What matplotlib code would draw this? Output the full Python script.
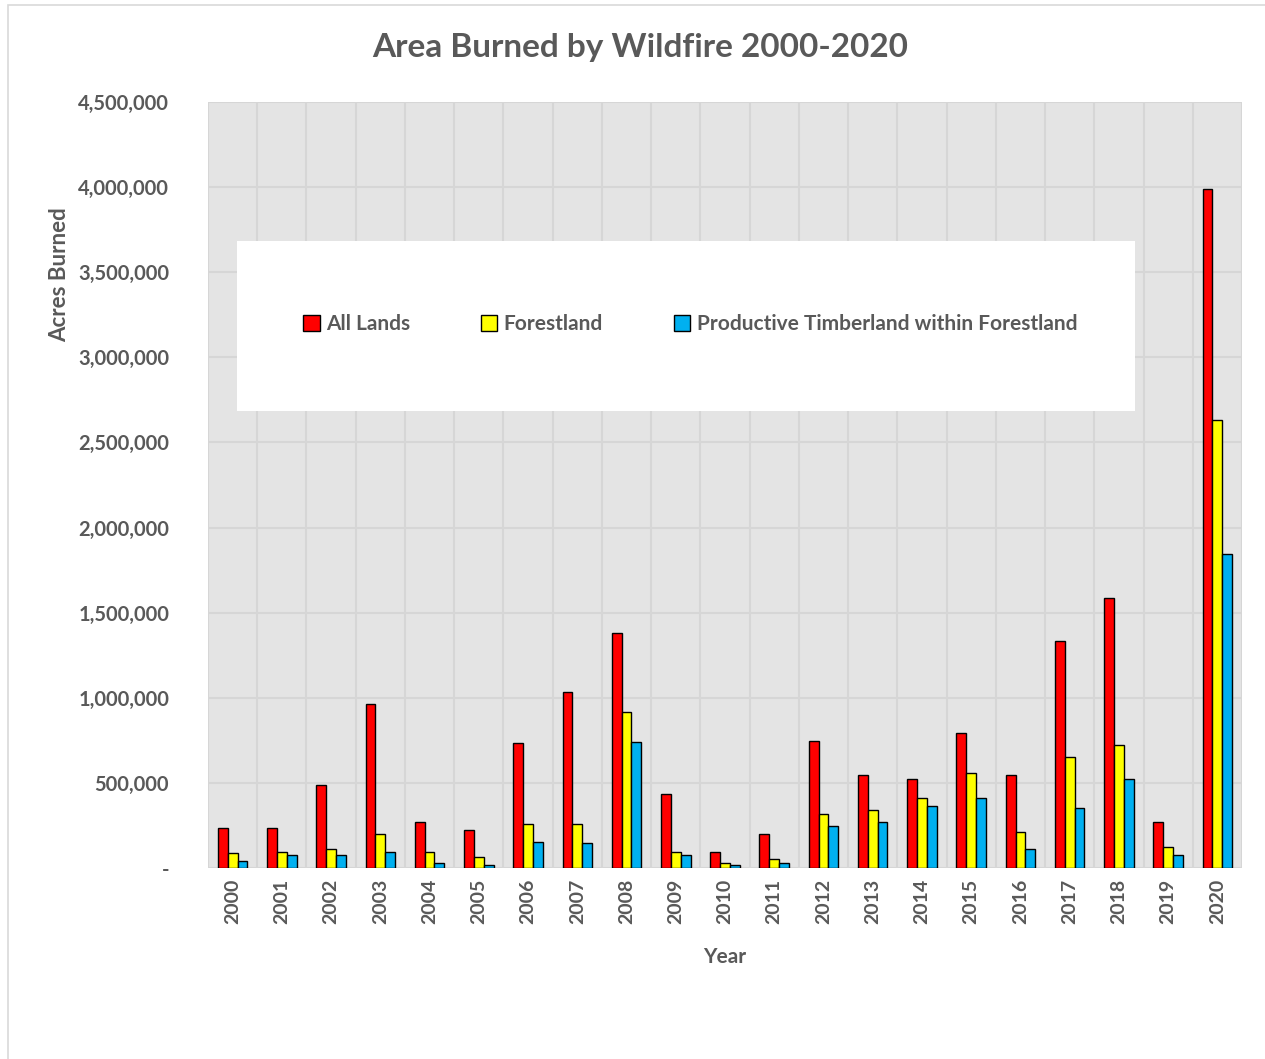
import numpy as np
import matplotlib.pyplot as plt
from matplotlib.patches import Rectangle
from matplotlib.ticker import FuncFormatter

years = [str(y) for y in range(2000, 2021)]
all_lands = [235000, 235000, 488000, 964000, 270000, 223000, 734000, 1034000, 1381000, 435000,
             94000, 200000, 746000, 546000, 523000, 793000, 546000, 1334000, 1586000, 270000, 3990000]
forestland = [88000, 94000, 112000, 200000, 94000, 65000, 258000, 258000, 917000, 94000,
              30000, 53000, 317000, 341000, 411000, 558000, 212000, 652000, 723000, 123000, 2632000]
timberland = [41000, 76000, 76000, 94000, 30000, 18000, 153000, 147000, 740000, 76000,
              18000, 27000, 247000, 270000, 364000, 411000, 112000, 352000, 523000, 76000, 1845000]

plt.rcParams['font.family'] = ['Lato', 'DejaVu Sans']
txt = '#595959'

fig = plt.figure(figsize=(12.65, 10.59), dpi=100)
# outer chart border
fig.patches.append(Rectangle((8 / 1265, -0.1), 1.2, 1 - 5 / 1059 + 0.1, transform=fig.transFigure,
                             facecolor='white', edgecolor='#d9d9d9', linewidth=1.2, zorder=-1))
ax = fig.add_axes([208 / 1265, 191 / 1059, 1034 / 1265, 766 / 1059])
ax.set_facecolor('#e4e4e4')

x = np.arange(len(years))
w = 0.2
ax.bar(x - w, all_lands, w, color='#ff0000', edgecolor='black', linewidth=1, label='All Lands', zorder=3)
ax.bar(x, forestland, w, color='#ffff00', edgecolor='black', linewidth=1, label='Forestland', zorder=3)
ax.bar(x + w, timberland, w, color='#00b0f0', edgecolor='black', linewidth=1,
       label='Productive Timberland within Forestland', zorder=3)

ax.set_xlim(-0.5, len(years) - 0.5)
ax.set_ylim(0, 4500000)
ax.set_yticks(np.arange(0, 4500001, 500000))
ax.yaxis.set_major_formatter(FuncFormatter(lambda v, p: '-' if v == 0 else f'{int(v):,}'))
ax.set_xticks(x)
ax.set_xticklabels(years, rotation=90, fontweight='bold')
ax.set_xticks(np.arange(-0.5, len(years), 1), minor=True)
ax.grid(True, axis='y', which='major', color='#d6d6d6', linewidth=1.5, zorder=0)
ax.grid(True, axis='x', which='minor', color='#d6d6d6', linewidth=1.5, zorder=0)
ax.tick_params(axis='both', which='both', length=0, colors=txt)
ax.tick_params(axis='y', pad=28, labelsize=14.5)
ax.tick_params(axis='x', pad=8, labelsize=14)
for lab in ax.get_yticklabels():
    lab.set_fontweight('bold')
for s in ax.spines.values():
    s.set_visible(False)

ax.set_xlabel('Year', fontsize=15, fontweight='bold', color=txt, labelpad=16)
fig.text(60 / 1265, 1 - 275 / 1059, 'Acres Burned', rotation=90, ha='center', va='center',
         fontsize=16, fontweight='bold', color=txt)
fig.text(640 / 1265, 1 - 48 / 1059, 'Area Burned by Wildfire 2000-2020', ha='center', va='center',
         fontsize=24, fontweight='bold', color=txt)

# legend box
ax.add_patch(Rectangle((237 / 1265, 1 - 411 / 1059), 898 / 1265, 170 / 1059,
                       transform=fig.transFigure, facecolor='white', edgecolor='none', zorder=5,
                       clip_on=False))
leg = ax.legend(loc='center', bbox_to_anchor=(690 / 1265, 1 - 324 / 1059), bbox_transform=fig.transFigure,
                ncol=3, frameon=False, prop={'size': 15, 'weight': 'bold'}, handlelength=0.8,
                handleheight=0.8, columnspacing=3.4, handletextpad=0.3)
for t in leg.get_texts():
    t.set_color(txt)
leg.set_zorder(6)

fig.savefig('out.png', dpi=100)
